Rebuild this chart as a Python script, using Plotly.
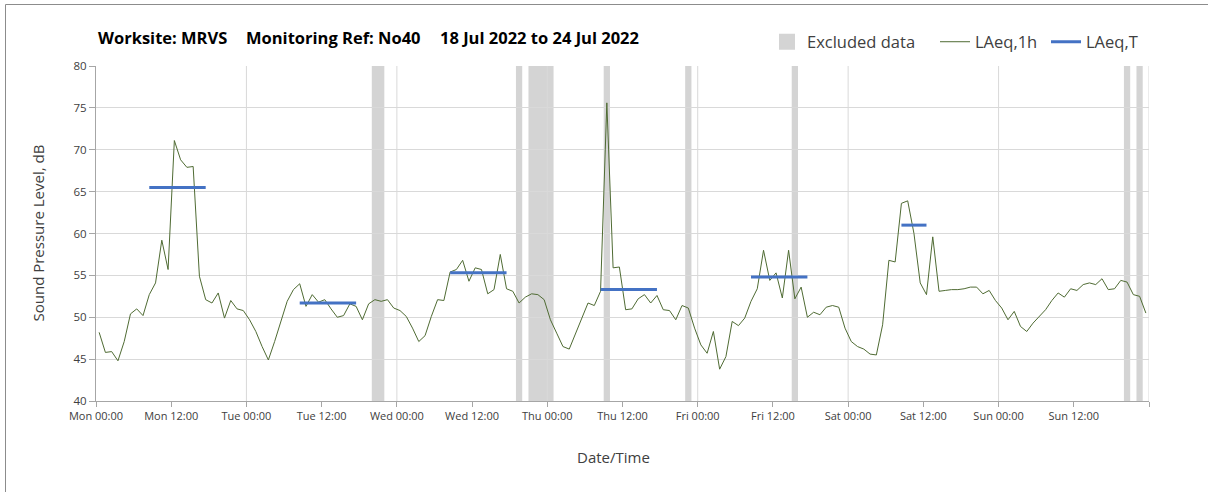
import pandas as pd
import plotly.graph_objects as go

# ---- data -------------------------------------------------------------
START = "2022-07-18 00:30"          # hourly LAeq values plotted at mid-hour

laeq_1h_mon = [48.2, 45.8, 45.9, 44.8, 47.1, 50.4, 51.0, 50.2, 52.7, 54.1, 59.2, 55.7,
               71.1, 68.8, 67.9, 68.0, 54.9, 52.1, 51.7, 52.9, 49.9, 52.0, 51.0, 50.8]
laeq_1h_tue = [49.7, 48.3, 46.5, 44.9, 47.1, 49.6, 51.9, 53.3, 54.0, 51.3, 52.7, 51.8,
               52.1, 51.0, 50.0, 50.2, 51.6, 51.3, 49.7, 51.6, 52.1, 51.9, 52.1, 51.1]
laeq_1h_wed = [50.8, 50.1, 48.7, 47.1, 47.8, 50.1, 52.1, 52.0, 55.4, 55.7, 56.8, 54.3,
               55.9, 55.7, 52.8, 53.3, 57.5, 53.4, 53.1, 51.7, 52.4, 52.8, 52.7, 52.1]
laeq_1h_thu = [49.7, 48.1, 46.5, 46.2, 48.1, 49.9, 51.7, 51.4, 53.1, 75.6, 55.9, 56.0,
               50.9, 51.0, 52.2, 52.7, 51.7, 52.6, 50.9, 50.8, 49.7, 51.4, 51.1, 48.7]
laeq_1h_fri = [46.7, 45.7, 48.3, 43.8, 45.3, 49.5, 49.0, 49.9, 51.9, 53.4, 58.0, 54.4,
               55.3, 52.3, 58.0, 52.2, 53.6, 50.0, 50.6, 50.3, 51.2, 51.4, 51.2, 48.7]
laeq_1h_sat = [47.1, 46.5, 46.2, 45.6, 45.5, 49.1, 56.8, 56.6, 63.6, 63.9, 60.0, 54.1,
               52.7, 59.6, 53.1, 53.2, 53.3, 53.3, 53.4, 53.6, 53.6, 52.8, 53.2, 52.0]
laeq_1h_sun = [51.1, 49.7, 50.7, 48.9, 48.3, 49.3, 50.1, 50.9, 52.0, 52.9, 52.4, 53.4,
               53.2, 53.9, 54.1, 53.9, 54.6, 53.3, 53.4, 54.4, 54.2, 52.7, 52.5, 50.5]

# LAeq,T over each working period
period_start = ["2022-07-18 08:00", "2022-07-19 08:00", "2022-07-20 08:00",
                "2022-07-21 08:00", "2022-07-22 08:00", "2022-07-23 08:00"]
period_end = ["2022-07-18 18:00", "2022-07-19 18:00", "2022-07-20 18:00",
              "2022-07-21 18:00", "2022-07-22 18:00", "2022-07-23 13:00"]
laeq_t = [65.5, 51.7, 55.3, 53.3, 54.8, 61.0]

# Excluded periods
excl_start = ["2022-07-19 20:00", "2022-07-20 19:00", "2022-07-20 21:00", "2022-07-21 09:00",
              "2022-07-21 22:00", "2022-07-22 15:00", "2022-07-24 20:00", "2022-07-24 22:00"]
excl_end = ["2022-07-19 22:00", "2022-07-20 20:00", "2022-07-21 01:00", "2022-07-21 10:00",
            "2022-07-21 23:00", "2022-07-22 16:00", "2022-07-24 21:00", "2022-07-24 23:00"]

title_parts = ["Worksite: MRVS", "Monitoring Ref: No40", "18 Jul 2022 to 24 Jul 2022"]

AXIS_START = "2022-07-18 00:00"
AXIS_END = "2022-07-25 00:00"

# ---- layout constants (pixels) ---------------------------------------
W, H = 1208, 492
ML, MR, MT, MB = 96, 59, 66, 91
PW, PH = W - ML - MR, H - MT - MB
FONT = "'Open Sans', Lato, sans-serif"
GRID = "#d9d9d9"
AXIS = "#a6a6a6"
TXT = "#404040"


def px_x(px):
    return (px - ML) / PW


def px_y(py):
    return (H - MB - py) / PH


laeq_1h = (laeq_1h_mon + laeq_1h_tue + laeq_1h_wed + laeq_1h_thu +
           laeq_1h_fri + laeq_1h_sat + laeq_1h_sun)
times = pd.date_range(START, periods=len(laeq_1h), freq="h")

half = pd.Timedelta(minutes=30)
tx, ty = [], []
for s, e, v in zip(period_start, period_end, laeq_t):
    tx += [(pd.Timestamp(s) + half).isoformat(), (pd.Timestamp(e) - half).isoformat(), None]
    ty += [v, v, None]

fig = go.Figure()

# legend swatch for excluded periods
fig.add_trace(go.Scatter(
    x=[None], y=[None], mode="markers", name="Excluded data", legend="legend",
    marker=dict(symbol="square", size=17, color="#d4d4d4"),
))
fig.add_trace(go.Scatter(
    x=[t.isoformat() for t in times], y=laeq_1h, mode="lines", name="LAeq,1h",
    legend="legend2", line=dict(color="#4f6b33", width=1),
))
fig.add_trace(go.Scatter(
    x=tx, y=ty, mode="lines", name="LAeq,T", legend="legend3",
    line=dict(color="#4472c4", width=3),
))

shapes = []
for s, e in zip(excl_start, excl_end):
    shapes.append(dict(type="rect", xref="x", yref="paper", x0=s, x1=e, y0=0, y1=1,
                       fillcolor="#d4d4d4", line=dict(width=0), layer="below"))
# vertical gridlines at midnight
for d in pd.date_range(AXIS_START, AXIS_END, freq="D")[1:]:
    shapes.append(dict(type="line", xref="x", yref="paper", x0=d.isoformat(), x1=d.isoformat(),
                       y0=0, y1=1, line=dict(color=GRID, width=1), layer="below"))
# outer chart frame
shapes.append(dict(type="line", xref="paper", yref="paper",
                   x0=px_x(5.5), x1=px_x(5.5), y0=px_y(4.5), y1=px_y(H + 10),
                   line=dict(color="#8c8c8c", width=1)))
shapes.append(dict(type="line", xref="paper", yref="paper",
                   x0=px_x(5.5), x1=px_x(W + 10), y0=px_y(4.5), y1=px_y(4.5),
                   line=dict(color="#8c8c8c", width=1)))

tickvals = pd.date_range(AXIS_START, AXIS_END, freq="12h")
ticktext = [t.strftime("%a %H:%M") for t in tickvals[:-1]] + [""]


def legend_at(px_left):
    return dict(orientation="h", xanchor="left", x=px_x(px_left), yanchor="middle",
                y=px_y(42), font=dict(size=16.5, color=TXT), bgcolor="rgba(0,0,0,0)",
                borderwidth=0, itemwidth=30)


title_x = [96, 244, 438]
annotations = [
    dict(text=t, xref="paper", yref="paper", x=px_x(x0), y=px_y(37), xanchor="left",
         yanchor="middle", showarrow=False,
         font=dict(size=16.5, color="#000000", family=FONT, weight="bold"))
    for t, x0 in zip(title_parts, title_x)
]
annotations += [
    dict(text="Sound Pressure Level, dB", xref="paper", yref="paper",
         x=px_x(37), y=0.5, textangle=-90, showarrow=False,
         xanchor="center", yanchor="middle", font=dict(size=15, color=TXT)),
    dict(text="Date/Time", xref="paper", yref="paper",
         x=px_x(613), y=px_y(457), showarrow=False,
         xanchor="center", yanchor="middle", font=dict(size=15, color=TXT)),
]

fig.update_layout(
    width=W, height=H,
    margin=dict(l=ML, r=MR, t=MT, b=MB),
    paper_bgcolor="white", plot_bgcolor="white",
    font=dict(family=FONT, size=12, color=TXT),
    shapes=shapes,
    showlegend=True,
    legend=legend_at(767),
    legend2=legend_at(935),
    legend3=legend_at(1046),
    xaxis=dict(
        type="date",
        range=[AXIS_START, AXIS_END], tickvals=[t.isoformat() for t in tickvals],
        ticktext=ticktext,
        showgrid=False, zeroline=False, showline=True, linecolor=AXIS, linewidth=1,
        ticks="outside", ticklen=5, tickcolor=AXIS,
        tickfont=dict(size=11, color=TXT),
    ),
    yaxis=dict(
        range=[40, 80], dtick=5, showgrid=True, gridcolor=GRID, gridwidth=1,
        zeroline=False, showline=True, linecolor=AXIS, linewidth=1,
        ticks="outside", ticklen=6, tickcolor=AXIS,
        tickfont=dict(size=11.5, color=TXT),
    ),
    annotations=annotations,
)

fig.write_html("out.html")
